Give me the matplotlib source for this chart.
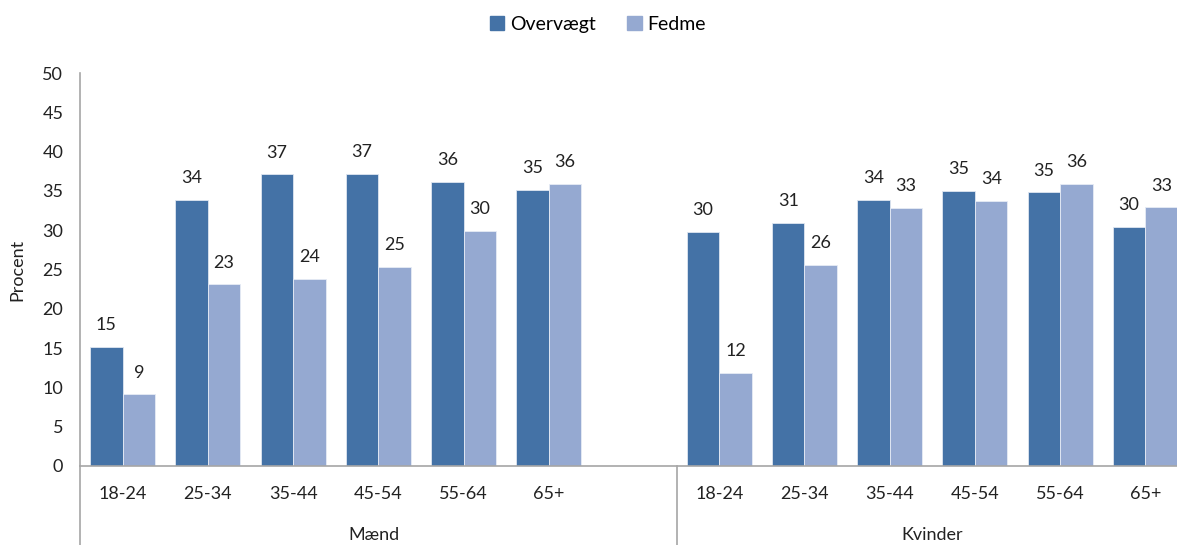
import matplotlib.pyplot as plt
import matplotlib.transforms as mtransforms
from matplotlib.patches import Patch
import numpy as np

plt.rcParams["font.family"] = ["Lato", "DejaVu Sans"]

age_groups = ["18-24", "25-34", "35-44", "45-54", "55-64", "65+"]
sex_groups = ["Mænd", "Kvinder"]
overvaegt_maend = [15.2, 33.9, 37.1, 37.2, 36.1, 35.1]
fedme_maend = [9.1, 23.1, 23.8, 25.3, 29.9, 35.9]
overvaegt_kvinder = [29.8, 30.9, 33.8, 35.0, 34.8, 30.4]
fedme_kvinder = [11.8, 25.6, 32.8, 33.7, 35.9, 32.9]

DARK = "#4472a6"
LIGHT = "#95a9d1"
AXIS_GREY = "#a6a6a6"
TEXT = "#222222"
FS = 13

W, H = 1177, 545
fig = plt.figure(figsize=(W / 100, H / 100), dpi=100)
# axes right edge runs a little past the picture, as in the reference
ax = fig.add_axes([80 / W, 79 / H, 1108 / W, 393 / H])

pos_m = np.arange(6)
pos_k = np.arange(7, 13)
bw = 0.382

for pos, ov, fe in [(pos_m, overvaegt_maend, fedme_maend), (pos_k, overvaegt_kvinder, fedme_kvinder)]:
    b1 = ax.bar(pos - bw / 2, ov, bw, color=DARK, edgecolor="#dfe6f0", linewidth=0.6)
    b2 = ax.bar(pos + bw / 2, fe, bw, color=LIGHT, edgecolor="#e6ebf5", linewidth=0.6)
    for bars, vals in [(b1, ov), (b2, fe)]:
        for b, v in zip(bars, vals):
            ax.annotate(f"{v:.0f}", (b.get_x() + b.get_width() / 2, v), xytext=(0, 10),
                        textcoords="offset points", ha="center", va="bottom",
                        fontsize=FS, color=TEXT)

ax.set_xlim(-0.5, 12.5)
ax.set_ylim(0, 50)
ax.set_yticks(range(0, 51, 5))
ax.tick_params(axis="y", length=0, pad=12, labelsize=FS, labelcolor=TEXT)
ax.set_xticks([])
for s in ["top", "right"]:
    ax.spines[s].set_visible(False)
for s in ["left", "bottom"]:
    ax.spines[s].set_color(AXIS_GREY)
    ax.spines[s].set_linewidth(1.2)
ax.set_ylabel("Procent", fontsize=FS, color=TEXT, labelpad=12)

# multi-level category axis below the bars
trans = mtransforms.blended_transform_factory(ax.transData, ax.transAxes)
for pos in (pos_m, pos_k):
    for p, lab in zip(pos, age_groups):
        ax.text(p, -0.07, lab, transform=trans, ha="center", va="center", fontsize=FS, color=TEXT)
ax.text(2.95, -0.176, sex_groups[0], transform=trans, ha="center", va="center", fontsize=FS, color=TEXT)
ax.text(9.5, -0.176, sex_groups[1], transform=trans, ha="center", va="center", fontsize=FS, color=TEXT)
for x in (-0.5, 6.5, 12.5):
    ax.plot([x, x], [0, -0.21], transform=trans, color=AXIS_GREY, linewidth=1.2, clip_on=False)

handles = [Patch(color=DARK, label="Overvægt"), Patch(color=LIGHT, label="Fedme")]
fig.legend(handles=handles, loc="upper center", bbox_to_anchor=(0.508, 1.0), ncol=2, frameon=False,
           fontsize=14, handlelength=0.75, handleheight=0.75, handletextpad=0.3,
           columnspacing=1.6, borderaxespad=0.4)

fig.savefig("out.png", dpi=100)
